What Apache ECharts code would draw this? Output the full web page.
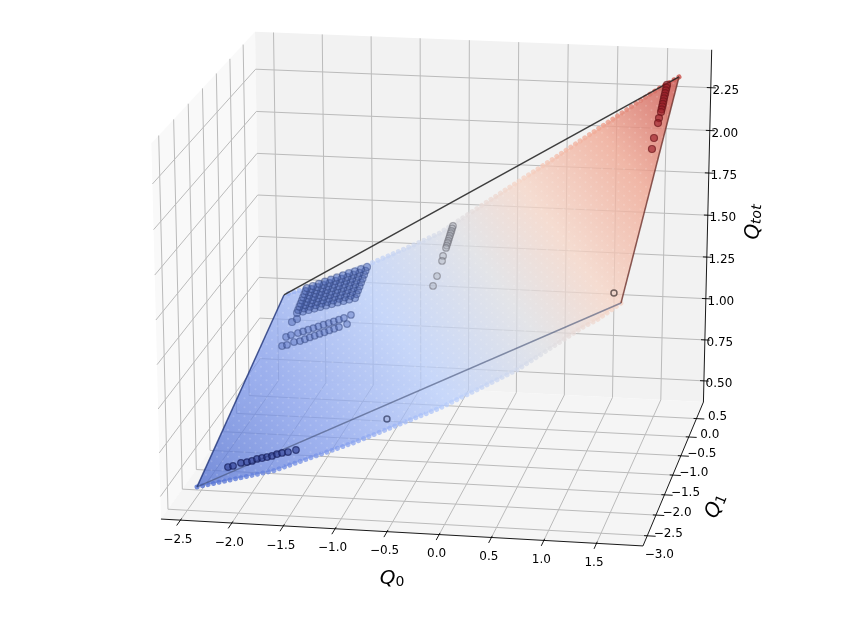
<!DOCTYPE html><html><head><meta charset="utf-8"><style>html,body{margin:0;padding:0;background:#fff}#c{width:864px;height:620px}</style>
<script src="https://cdn.jsdelivr.net/npm/echarts@6/dist/echarts.min.js"></script></head><body><div id="c"></div>
<script>
// tick labels / tick values
const q0Ticks=[-2.5,-2,-1.5,-1,-0.5,0,0.5,1,1.5];
const q1Ticks=[-2.5,-2,-1.5,-1,-0.5,0,0.5];
const q1LabelTicks=[-3,-2.5,-2,-1.5,-1,-0.5,0,0.5];
const qtotTicks=[0.5,0.75,1,1.25,1.5,1.75,2,2.25];
// axis limits
const q0Lim=[-2.69,1.94], q1Lim=[-2.74,0.96], qtotLim=[0.37,2.47];
// surface outline (Q0,Q1,Qtot)
const polyCorners=[[-2.395,-2.518,0.513],[-2.395,0.825,0.928],[1.645,0.791,2.334],[1.645,-2.439,1.656]];
const surfaceBottom=[[-1.662,-2.48,0.620],[-0.884,-2.48,0.805],[-0.048,-2.48,1.029],[0.682,-2.48,1.265],[1.085,-2.48,1.433],[1.300,-2.48,1.522],[1.430,-2.48,1.565]];
const surfaceTop=[[1.385,0.81,2.237],[0.928,0.81,2.046],[0.326,0.81,1.796],[-0.284,0.81,1.549],[-0.766,0.81,1.351],[-0.993,0.81,1.284],[-1.522,0.81,1.137],[-2.118,0.81,0.987]];
// sampled points
const clusterA=[
[-2.072,0.092,0.977],[-2.005,0.065,0.993],[-1.939,0.037,1.010],[-1.872,0.010,1.026],[-1.806,-0.017,1.043],[-1.739,-0.044,1.059],[-1.673,-0.072,1.075],[-1.607,-0.099,1.092],[-1.541,-0.126,1.108],[-1.476,-0.153,1.124],[-1.410,-0.180,1.140],
[-2.072,0.143,0.985],[-2.005,0.116,1.002],[-1.938,0.090,1.019],[-1.872,0.064,1.035],[-1.805,0.038,1.052],[-1.739,0.012,1.069],[-1.673,-0.014,1.085],[-1.607,-0.040,1.102],[-1.541,-0.066,1.118],[-1.475,-0.092,1.134],[-1.409,-0.118,1.151],
[-2.071,0.193,0.994],[-2.005,0.168,1.011],[-1.938,0.143,1.028],[-1.871,0.118,1.044],[-1.805,0.093,1.061],[-1.738,0.068,1.078],[-1.672,0.043,1.095],[-1.606,0.018,1.111],[-1.540,-0.006,1.128],[-1.474,-0.031,1.145],[-1.409,-0.056,1.161],
[-2.071,0.243,1.002],[-2.004,0.219,1.019],[-1.937,0.196,1.037],[-1.871,0.172,1.054],[-1.804,0.148,1.071],[-1.738,0.124,1.088],[-1.672,0.101,1.105],[-1.606,0.077,1.121],[-1.540,0.053,1.138],[-1.474,0.030,1.155],[-1.408,0.006,1.172],
[-2.071,0.294,1.011],[-2.004,0.271,1.028],[-1.937,0.249,1.045],[-1.870,0.226,1.063],[-1.804,0.203,1.080],[-1.738,0.181,1.097],[-1.671,0.158,1.114],[-1.605,0.136,1.131],[-1.539,0.113,1.149],[-1.473,0.091,1.166],[-1.408,0.069,1.183],
[-2.071,0.345,1.019],[-2.004,0.323,1.037],[-1.937,0.302,1.054],[-1.870,0.280,1.072],[-1.804,0.259,1.089],[-1.737,0.237,1.107],[-1.671,0.216,1.124],[-1.605,0.195,1.141],[-1.539,0.174,1.159],[-1.473,0.152,1.176],[-1.407,0.131,1.193],
[-2.070,0.395,1.028],[-2.003,0.375,1.046],[-1.936,0.355,1.063],[-1.870,0.335,1.081],[-1.803,0.314,1.099],[-1.737,0.294,1.116],[-1.670,0.274,1.134],[-1.604,0.254,1.151],[-1.538,0.234,1.169],[-1.472,0.214,1.186],[-1.406,0.194,1.204],
[-2.070,0.446,1.037],[-2.003,0.427,1.055],[-1.936,0.408,1.072],[-1.869,0.389,1.090],[-1.803,0.370,1.108],[-1.736,0.351,1.126],[-1.670,0.332,1.144],[-1.604,0.313,1.161],[-1.538,0.294,1.179],[-1.472,0.275,1.197],[-1.406,0.257,1.215],
[-2.070,0.497,1.045],[-2.003,0.479,1.063],[-1.936,0.462,1.081],[-1.869,0.444,1.100],[-1.802,0.426,1.118],[-1.736,0.408,1.136],[-1.669,0.390,1.154],[-1.603,0.373,1.172],[-1.537,0.355,1.189],[-1.471,0.337,1.207],[-1.405,0.320,1.225],
[-2.091,-0.038,0.949],[-2.042,-0.028,0.966]];
const row2=[[-2.092,-0.277,0.909],[-2.039,-0.286,0.924],[-1.960,-0.315,0.944],[-1.903,-0.331,0.959],[-1.847,-0.348,0.974],[-1.790,-0.365,0.989],[-1.734,-0.382,1.004],[-1.678,-0.398,1.019],[-1.621,-0.415,1.034],[-1.565,-0.432,1.049],[-1.509,-0.448,1.064],[-1.454,-0.465,1.079],[-1.381,-0.474,1.101]];
const row3=[[-2.098,-0.415,0.884],[-2.040,-0.444,0.898],[-1.966,-0.452,0.919],[-1.895,-0.491,0.935],[-1.842,-0.503,0.950],[-1.789,-0.516,0.965],[-1.736,-0.529,0.979],[-1.684,-0.541,0.994],[-1.631,-0.554,1.008],[-1.579,-0.567,1.023],[-1.526,-0.579,1.037],[-1.474,-0.592,1.051],[-1.388,-0.610,1.075]];
const lowRow=[[-2.178,-2.197,0.561],[-2.121,-2.223,0.575],[-2.038,-2.239,0.599],[-1.969,-2.274,0.614],[-1.913,-2.299,0.628],[-1.862,-2.307,0.643],[-1.806,-2.332,0.656],[-1.750,-2.358,0.669],[-1.695,-2.383,0.683],[-1.644,-2.391,0.697],[-1.588,-2.416,0.711],[-1.521,-2.450,0.726],[-1.435,-2.483,0.748]];
const loneBlue=[[-0.502,-2.712,1.004]];
const loneOrange=[[1.576,-2.429,1.707]];
const grayRow=[[-0.520,0.287,1.499],[-0.519,0.246,1.493],[-0.518,0.205,1.486],[-0.517,0.164,1.480],[-0.516,0.123,1.473],[-0.515,0.082,1.467],[-0.514,0.041,1.460],[-0.513,0.001,1.454],[-0.512,-0.040,1.447],[-0.511,-0.080,1.441],[-0.513,-0.208,1.419],[-0.504,-0.296,1.407],[-0.501,-0.539,1.367],[-0.507,-0.693,1.340]];
const redRow=[[1.497,0.982,2.252],[1.499,0.934,2.244],[1.501,0.885,2.237],[1.503,0.837,2.229],[1.505,0.789,2.222],[1.507,0.740,2.215],[1.509,0.692,2.207],[1.512,0.644,2.200],[1.514,0.597,2.193],[1.516,0.549,2.185],[1.518,0.501,2.178],[1.515,0.402,2.160],[1.520,0.313,2.147],[1.524,0.059,2.106],[1.537,-0.135,2.078]];

// camera (elevation, azimuth, distance; screen centre and scale)
const view={elev:19.6381,azim:-80.1366,dist:10.4234,cx:442.0121,cy:279.5587,sx:4961.507,sy:4023.0164};
const rad=Math.PI/180,ce=Math.cos(view.elev*rad),se=Math.sin(view.elev*rad),ca=Math.cos(view.azim*rad),sa=Math.sin(view.azim*rad);
const n=[ca*ce,sa*ce,se],E=n.map(v=>0.5+view.dist*v);
const ul=Math.hypot(n[1],n[0]),u=[-n[1]/ul,n[0]/ul,0],v=[n[1]*u[2]-n[2]*u[1],n[2]*u[0]-n[0]*u[2],n[0]*u[1]-n[1]*u[0]];
function project(p){
  const r=[(p[0]-q0Lim[0])/(q0Lim[1]-q0Lim[0])-E[0],(p[1]-q1Lim[0])/(q1Lim[1]-q1Lim[0])-E[1],(p[2]-qtotLim[0])/(qtotLim[1]-qtotLim[0])-E[2]];
  const d=(a,b)=>a[0]*b[0]+a[1]*b[1]+a[2]*b[2];
  const w=-d(n,r);
  return [view.cx+view.sx*d(u,r)/w,view.cy-view.sy*d(v,r)/w];
}
const [x0,x1]=q0Lim,[y0,y1]=q1Lim,[z0,z1]=qtotLim;
const segs3=(list)=>list.map(s=>[...project(s[0]),...project(s[1])]);
const gridSegs=segs3([
  ...q0Ticks.flatMap(t=>[[[t,y0,z0],[t,y1,z0]],[[t,y1,z0],[t,y1,z1]]]),
  ...q1Ticks.flatMap(t=>[[[x1,t,z0],[x0,t,z0]],[[x0,t,z0],[x0,t,z1]]]),
  ...qtotTicks.flatMap(t=>[[[x0,y0,t],[x0,y1,t]],[[x0,y1,t],[x1,y1,t]]])
]);
const axisSegs=segs3([
  [[x0,y0,z0],[x1,y0,z0]],[[x1,y0,z0],[x1,y1,z0]],[[x1,y1,z0],[x1,y1,z1]],
  ...q0Ticks.map(t=>[[t,y0+0.04,z0],[t,y0-0.13,z0]]),
  ...q1Ticks.map(t=>[[x1-0.03,t,z0],[x1+0.08,t,z0]]),
  ...qtotTicks.map(t=>[[x1-0.04,y1,t],[x1+0.05,y1,t]])
]);
const panes=[
  [[x0,y0,z0],[x0,y1,z0],[x0,y1,z1],[x0,y0,z1]],
  [[x0,y1,z0],[x1,y1,z0],[x1,y1,z1],[x0,y1,z1]],
  [[x0,y0,z0],[x1,y0,z0],[x1,y1,z0],[x0,y1,z0]]
];
const paneColors=['#f9f9f9','#f2f2f2','#f5f5f5'];
const outline=[...polyCorners,polyCorners[0]];
const outlineColors=['rgba(30,50,120,0.8)','rgba(30,30,30,0.85)','rgba(110,50,45,0.8)','rgba(65,78,115,0.6)'];
const hull=[polyCorners[0],...surfaceBottom,polyCorners[3],polyCorners[2],...surfaceTop,polyCorners[1]];
const edgeBottom=[polyCorners[0],...surfaceBottom,polyCorners[3]];
const edgeTop=[polyCorners[2],...surfaceTop,polyCorners[1]];
const fmt=t=>(t<0?'\u2212':'')+Math.abs(t).toFixed(1);
const labels=[
  ...q0Ticks.map(t=>{const p=project([t,y0,z0]);return [p[0]-2.5,p[1]+19.5,fmt(t)]}),
  ...q1LabelTicks.map(t=>{const p=project([x1,t,z0]);return [p[0]+21,p[1]-2,fmt(t)]}),
  ...qtotTicks.map(t=>{const p=project([x1,y1,t]);return [p[0]+15,p[1]+3,t.toFixed(2)]})
];
const lineRender=(style)=>(params,api)=>{
  const a=api.coord([api.value(0),api.value(1)]),b=api.coord([api.value(2),api.value(3)]);
  return {type:'line',shape:{x1:a[0],y1:a[1],x2:b[0],y2:b[1]},style:typeof style==='function'?style(params.dataIndex):style};
};
const polyOf=(pts,style,kind)=>({type:'custom',coordinateSystem:'cartesian2d',silent:true,clip:false,
  data:[pts.map(project).flat()],encode:{x:0,y:1},
  renderItem:(params,api)=>{const shape=[];for(let i=0;i<pts.length;i++)shape.push(api.coord([api.value(2*i),api.value(2*i+1)]));return {type:kind||'polygon',shape:{points:shape},style}}
});
const [gs,ge]=[project(polyCorners[0]),[702,109]];
const gradient={type:'linear',x:gs[0],y:gs[1],x2:ge[0],y2:ge[1],global:true,colorStops:[
  {offset:0,color:'rgba(80,110,208,0.78)'},{offset:0.2,color:'rgba(125,152,236,0.72)'},{offset:0.4,color:'rgba(182,204,252,0.72)'},
  {offset:0.575,color:'rgba(222,223,228,0.72)'},{offset:0.7,color:'rgba(246,212,197,0.74)'},{offset:0.85,color:'rgba(240,168,148,0.8)'},{offset:1,color:'rgba(205,92,86,0.88)'}]};
const tile=document.createElement('canvas');tile.width=11;tile.height=9;
{const g=tile.getContext('2d');g.fillStyle='rgba(255,255,255,0.16)';[[2.5,2.2],[8,6.7]].forEach(p=>{g.beginPath();g.arc(p[0],p[1],1,0,7);g.fill()});}
const dots=(name,data,fill,border,size,bw)=>({type:'scatter',name,silent:true,symbol:'circle',symbolSize:size||6.6,clip:false,
  data:data.map(project),itemStyle:{color:fill,borderColor:border,borderWidth:bw||1.2}});
const chart=echarts.init(document.getElementById('c'),null,{renderer:'canvas'});
const rich=(subFont)=>({q:{font:'italic 20px "DejaVu Sans"',fill:'#000'},s:{font:subFont,verticalAlign:'bottom',fill:'#000'}});
chart.setOption({animation:false,backgroundColor:'#fff',tooltip:{show:false},
  grid:{left:0,right:0,top:0,bottom:0},
  xAxis:{type:'value',min:0,max:864,show:false},
  yAxis:{type:'value',min:0,max:620,inverse:true,show:false},
  graphic:[
   {type:'text',x:392,y:579,style:{text:'{q|Q}{s|0}',rich:rich('14px "DejaVu Sans"'),align:'center',verticalAlign:'middle'}},
   {type:'text',x:716,y:506,rotation:67*rad,style:{text:'{q|Q}{s|1}',rich:rich('14px "DejaVu Sans"'),align:'center',verticalAlign:'middle'}},
   {type:'text',x:754,y:222,rotation:88*rad,style:{text:'{q|Q}{s|tot}',rich:rich('italic 14px "DejaVu Sans"'),align:'center',verticalAlign:'middle'}}
  ],
  series:[
   ...panes.map((p,i)=>polyOf(p,{fill:paneColors[i]})),
   {type:'custom',silent:true,clip:false,data:gridSegs,encode:{x:[0,2],y:[1,3]},renderItem:lineRender({stroke:'#bbbbbb',lineWidth:1})},
   polyOf(hull,{fill:gradient}),
   polyOf(edgeBottom,{fill:'none',stroke:gradient,lineWidth:5,lineDash:[0.01,5.6],lineCap:'round'},'polyline'),
   polyOf(edgeTop,{fill:'none',stroke:gradient,lineWidth:5,lineDash:[0.01,5.6],lineCap:'round'},'polyline'),
   polyOf(hull,{fill:{image:tile,repeat:'repeat'}}),
   {type:'custom',silent:true,clip:false,data:outline.slice(1).map((p,i)=>[...project(outline[i]),...project(p)]),encode:{x:[0,2],y:[1,3]},renderItem:lineRender(i=>({stroke:outlineColors[i],lineWidth:1.5}))},
   dots('lower row',lowRow,'rgba(40,55,140,0.75)','rgba(20,30,90,0.85)'),
   dots('row 3',row3,'rgba(80,105,185,0.5)','rgba(50,68,125,0.62)'),
   dots('row 2',row2,'rgba(80,105,185,0.5)','rgba(50,68,125,0.62)'),
   dots('cluster',clusterA,'rgba(72,97,175,0.55)','rgba(50,68,125,0.6)',7),
   dots('lone blue',loneBlue,'rgba(140,150,190,0.3)','rgba(30,40,80,0.8)',6,1.5),
   dots('gray',grayRow,'rgba(170,175,185,0.5)','rgba(110,110,120,0.7)'),
   dots('lone orange',loneOrange,'rgba(240,220,210,0.3)','rgba(40,30,30,0.8)',6,1.5),
   dots('red',redRow,'rgba(155,30,40,0.8)','rgba(105,20,25,0.85)',7),
   {type:'custom',silent:true,clip:false,data:axisSegs,encode:{x:[0,2],y:[1,3]},z:5,renderItem:lineRender({stroke:'#000',lineWidth:0.9})},
   {type:'custom',silent:true,clip:false,z:6,data:labels,encode:{x:0,y:1},renderItem:(params,api)=>{const p=api.coord([api.value(0),api.value(1)]);return {type:'text',style:{x:p[0],y:p[1],text:labels[params.dataIndex][2],font:'12px "DejaVu Sans"',fill:'#000',align:'center',verticalAlign:'middle'}}}}
  ]});
</script></body></html>
